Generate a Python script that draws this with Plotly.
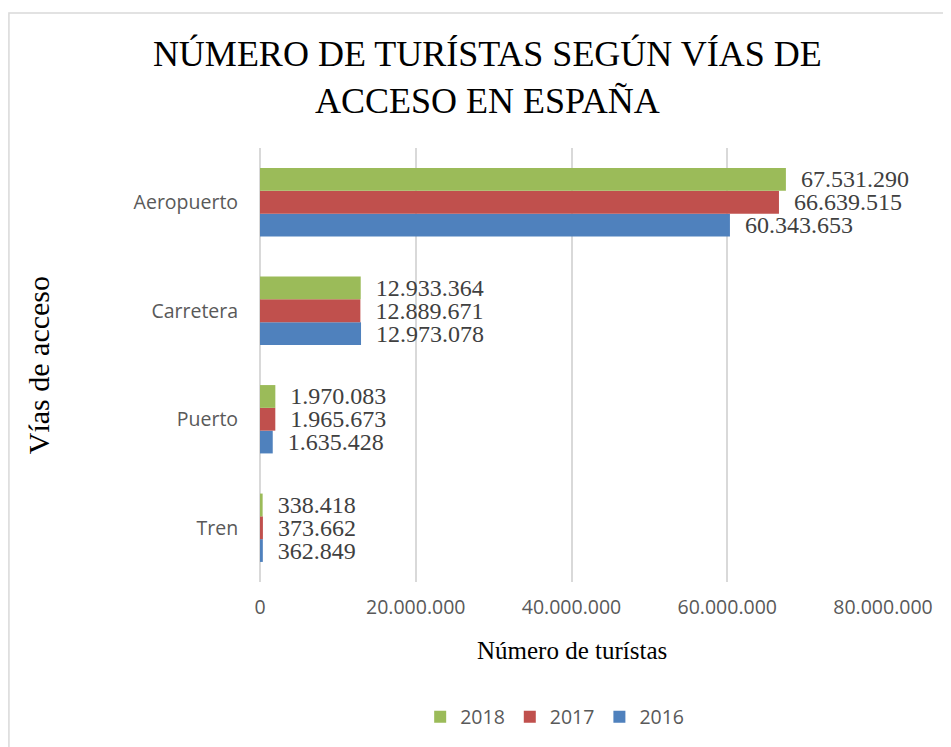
import plotly.graph_objects as go

# categories (bottom to top) and series values
vias = ['Tren', 'Puerto', 'Carretera', 'Aeropuerto']
t2016 = [362849, 1635428, 12973078, 60343653]
t2017 = [373662, 1965673, 12889671, 66639515]
t2018 = [338418, 1970083, 12933364, 67531290]
x_ticks = [0, 20000000, 40000000, 60000000, 80000000]

colores = {'2016': '#4F81BD', '2017': '#C0504D', '2018': '#9BBB59'}

def etiqueta(v):
    # thousands with dots, small gap before the number
    return '\u00a0\u00a0' + f"{v:,}".replace(",", ".")

fig = go.Figure()
for anio, vals in [('2016', t2016), ('2017', t2017), ('2018', t2018)]:
    fig.add_trace(go.Bar(
        y=vias, x=vals, name=anio, orientation='h',
        marker=dict(color=colores[anio], line=dict(width=0)),
        text=[etiqueta(v) for v in vals], textposition='outside',
        constraintext='none',
        textfont=dict(family='Liberation Serif', size=24, color='#404040'),
        cliponaxis=False))

fig.update_layout(
    width=951, height=747,
    barmode='group', bargap=0.37, bargroupgap=0,
    plot_bgcolor='white', paper_bgcolor='white',
    margin=dict(l=252, r=76, t=140, b=173),
    separators=',.',
    title=dict(text='NÚMERO DE TURÍSTAS SEGÚN VÍAS DE<br>ACCESO EN ESPAÑA',
               x=0.504, xanchor='center', y=0.922, yanchor='middle',
               font=dict(family='Liberation Serif', size=36, color='black')),
    legend=dict(orientation='h', x=0.473, xanchor='center', y=-0.311, yanchor='middle',
                traceorder='reversed',
                font=dict(family='Open Sans', size=19.5, color='#595959')),
    xaxis=dict(range=[0, 80000000], tickvals=x_ticks, tickformat=',d',
               showgrid=True, gridcolor='#D9D9D9', gridwidth=1.5,
               zeroline=True, zerolinecolor='#D9D9D9', zerolinewidth=1.5,
               ticks='outside', ticklen=8, tickcolor='white', showline=False,
               tickfont=dict(family='Open Sans', size=19.5, color='#595959')),
    yaxis=dict(categoryorder='array', categoryarray=vias, showgrid=False,
               ticks='outside', ticklen=17, tickcolor='white', showline=False,
               tickfont=dict(family='Open Sans', size=19.5, color='#595959')),
    annotations=[
        dict(text='Número de turístas', xref='paper', yref='paper', x=0.5, y=-0.157,
             xanchor='center', yanchor='middle', showarrow=False,
             font=dict(family='Liberation Serif', size=25, color='black')),
        dict(text='Vías de acceso', xref='paper', yref='paper', x=-0.356, y=0.5,
             xanchor='center', yanchor='middle', showarrow=False, textangle=-90,
             font=dict(family='Liberation Serif', size=30, color='black')),
    ],
    shapes=[dict(type='rect', xref='paper', yref='paper', x0=-0.403, x1=1.2,
                 y0=-0.5, y1=1.311, line=dict(color='#D9D9D9', width=1.5),
                 fillcolor='rgba(0,0,0,0)', layer='below')],
)

fig.write_html("out.html")
